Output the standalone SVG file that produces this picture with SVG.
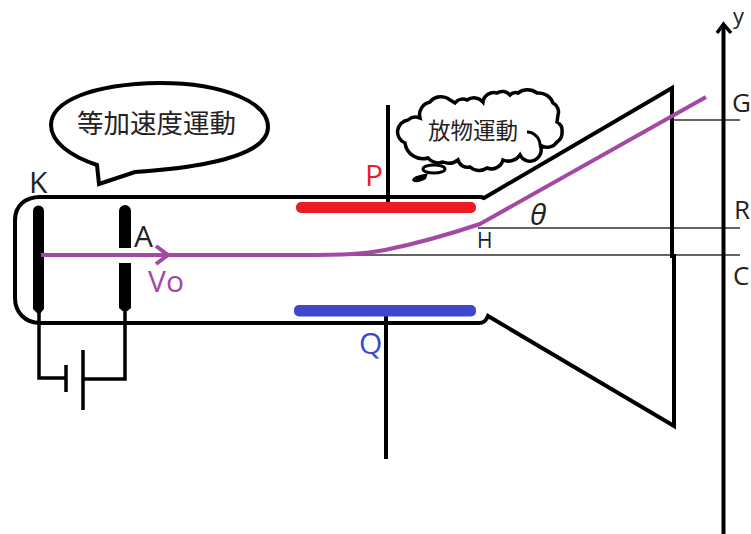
<svg xmlns="http://www.w3.org/2000/svg" width="751" height="534" viewBox="0 0 751 534">
<style>
.k{fill:none;stroke:#000;stroke-width:4;stroke-linejoin:miter}
.t{fill:none;stroke:#000;stroke-width:3.5}
.h{fill:none;stroke:#333;stroke-width:1.3}
.p{fill:none;stroke:#a349a4;stroke-width:4}
.e{fill:#000}
text{font-family:"Open Sans","Noto Sans","Noto Sans CJK JP",sans-serif;fill:#222;font-size:30px}
.j{font-family:"Noto Sans CJK JP",sans-serif}
</style>
<rect width="751" height="534" fill="#fff"/>
<g id="connectors">
<path class="h" d="M672 120H740M478 228H740M40 255H740"/>
<path class="k" d="M388 105V202"/>
<path class="k" d="M386 316V459"/>
<path class="t" d="M39 313V378H66M125 312V379H84M66 365V392M83 350V410"/>
<path class="k" stroke-width="4.5" d="M723.500 534V25"/>
<path class="t" d="M717 33L723.500 24L731 33"/>
</g>
<g id="tube">
<path class="k" d="M672 88L484 198L481 197H40C25 197 15 206 15 220V298C15 312 25 323 40 323H479C484 323 486 321 488 316L674 426V256H672V88Z"/>
</g>
<g id="node-K"><path class="e" d="M33 211a5.500 5.500 0 0 1 11 0V309L39 315L33 309Z"/><text x="29" y="193">K</text></g>
<g id="node-A"><path class="e" d="M119 211a6 6 0 0 1 12 0V248H119ZM119 263H131V308L125 313L119 308Z"/><text x="134" y="247">A</text></g>
<g id="node-P"><rect x="296" y="202" width="180" height="11" rx="5" fill="#ed1c24"/><text x="365" y="186" style="fill:#ed1c24">P</text></g>
<g id="node-Q"><rect x="294" y="305" width="182" height="11.500" rx="5" fill="#3f48cc"/><text x="359" y="354" style="fill:#3f48cc">Q</text></g>
<g id="beam">
<path class="p" d="M41 255H300C345 255 365 254 385 250C420 243 450 234 480 224L706 97"/>
<path class="p" stroke-width="3" d="M156 246L168 255L156 264"/>
<text x="148" y="292" style="fill:#a349a4">Vo</text>
</g>
<g id="bubble-accel">
<path d="M97 165C70 156 51 142 51 125C51 102 90 84 160 83C225 83 268 103 268 127C268 150 225 166 135 172L99 184Z" fill="#fff" stroke="#000" stroke-width="4"/>
<text class="j" x="77" y="133" style="font-size:26.500px">等加速度運動</text>
</g>
<g id="bubble-para">
<path d="M428 158A18 18 0 0 1 405 143A12 12 0 0 1 408 120A12 12 0 0 1 420 118A13 13 0 0 1 430 102A14 14 0 0 1 447 98L455 103A10 10 0 0 1 467 100A12 12 0 0 1 483 102A11 11 0 0 1 497 93A10 10 0 0 1 510 95A8 8 0 0 1 518 93A16 16 0 0 1 537 93A15 15 0 0 1 553 103A10 10 0 0 1 558 115L557 122A10 10 0 0 1 562 132A11 11 0 0 1 557 142A12 12 0 0 1 540 145A10 10 0 0 1 520 155A14 14 0 0 1 503 160A12 12 0 0 1 487 168A14 14 0 0 1 470 167A10 10 0 0 1 458 160A15 15 0 0 1 443 162A14 14 0 0 1 428 158Z" fill="#fff" stroke="#000" stroke-width="3.500"/>
<path d="M527 132C534 132 540 138 540 145" fill="none" stroke="#000" stroke-width="3"/>
<ellipse cx="434" cy="169" rx="11" ry="4" fill="#fff" stroke="#000" stroke-width="3"/>
<path d="M412 180C414 175 422 175 428 173L426 179C421 182 414 184 412 180Z" fill="#000"/>
<text class="j" x="428" y="139" style="font-size:22.500px">放物運動</text>
</g>
<g id="labels">
<text x="477" y="248" style="font-size:21px">H</text>
<text x="530" y="225" font-style="italic">θ</text>
<text x="733" y="24" style="font-size:22px">y</text>
<text x="732" y="112" style="font-size:26px">G</text>
<text x="734" y="219" style="font-size:26px">R</text>
<text x="733" y="285" style="font-size:26px">C</text>
</g>
</svg>
